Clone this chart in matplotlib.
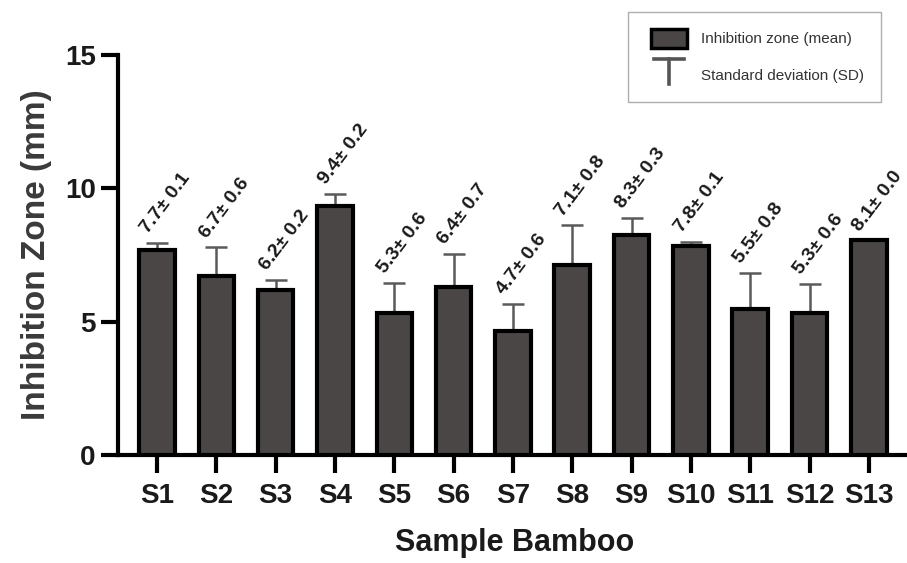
import matplotlib
matplotlib.use("Agg")
import matplotlib.pyplot as plt
from matplotlib.patches import Rectangle
from matplotlib.lines import Line2D
from matplotlib.legend_handler import HandlerBase
import numpy as np

categories = ["S1", "S2", "S3", "S4", "S5", "S6", "S7", "S8", "S9", "S10", "S11", "S12", "S13"]
means = [7.7, 6.7, 6.2, 9.35, 5.33, 6.3, 4.66, 7.14, 8.27, 7.83, 5.47, 5.33, 8.05]
err_drawn = [0.25, 1.09, 0.37, 0.44, 1.13, 1.24, 1.0, 1.47, 0.63, 0.15, 1.35, 1.09, 0.0]
label_mean = ["7.7", "6.7", "6.2", "9.4", "5.3", "6.4", "4.7", "7.1", "8.3", "7.8", "5.5", "5.3", "8.1"]
label_sd = ["0.1", "0.6", "0.2", "0.2", "0.6", "0.7", "0.6", "0.8", "0.3", "0.1", "0.8", "0.6", "0.0"]
yticks = [0, 5, 10, 15]

plt.rcParams['font.family'] = ['Liberation Sans', 'DejaVu Sans']

fig = plt.figure(figsize=(9.07, 5.63), dpi=100)
ax = fig.add_axes([0.130, 0.192, 0.875, 0.710])

x = np.arange(len(categories))
ax.bar(x, means, width=0.60, color="#4a4646", edgecolor="black", linewidth=3.0, zorder=3)
ax.errorbar(x, means, yerr=[np.zeros(len(x)), err_drawn], fmt="none", ecolor="#5a5a5a",
            elinewidth=1.8, capsize=8, capthick=1.8, zorder=2)

for xi, m, e, lm, ls in zip(x, means, err_drawn, label_mean, label_sd):
    ax.text(xi - 0.15, m + e + 0.33, f"{lm}\u00b1 {ls}", rotation=53, rotation_mode="anchor",
            ha="left", va="baseline", fontsize=14, fontweight="bold", color="#1a1a1a")

ax.set_xlim(-0.66, 12.72)
ax.set_ylim(0, 15)
ax.set_yticks(yticks)
ax.set_xticks(x)
ax.set_xticklabels(categories, fontsize=20, fontweight="bold", color="#1a1a1a")
ax.set_yticklabels([str(t) for t in yticks], fontsize=20, fontweight="bold", color="#1a1a1a")
ax.tick_params(axis="y", width=3, length=12, direction="out", pad=4)
ax.tick_params(axis="x", width=3, length=13, direction="out", pad=7)
for s in ["top", "right"]:
    ax.spines[s].set_visible(False)
for s in ["left", "bottom"]:
    ax.spines[s].set_linewidth(3)

ax.set_xlabel("Sample Bamboo", fontsize=22, fontweight="bold", labelpad=14, color="#1a1a1a")
ax.set_ylabel("Inhibition Zone (mm)", fontsize=24, fontweight="bold", color="#3a3a3a", labelpad=9)


class HandlerT(HandlerBase):
    def create_artists(self, legend, orig_handle, xdescent, ydescent, width, height, fontsize, trans):
        cx = width * 0.5 - xdescent
        top = height * 1.05
        hw = width * 0.3
        l1 = Line2D([cx - hw, cx + hw], [top, top], color="#555555", lw=2.6, transform=trans)
        l2 = Line2D([cx, cx], [top, -height * 0.2], color="#555555", lw=2.6, transform=trans)
        return [l1, l2]


class HandlerBox(HandlerBase):
    def create_artists(self, legend, orig_handle, xdescent, ydescent, width, height, fontsize, trans):
        w = width * 0.74
        r = Rectangle((width * 0.5 - xdescent - w / 2, -ydescent), w, height,
                      facecolor="#4a4646", edgecolor="black", linewidth=2.5, transform=trans)
        return [r]


class BoxKey:
    pass


class TKey:
    pass


leg = fig.legend([BoxKey(), TKey()], ["Inhibition zone (mean)", "Standard deviation (SD)"],
                 handler_map={BoxKey: HandlerBox(), TKey: HandlerT()}, loc="upper left",
                 bbox_to_anchor=(0.692, 0.979), borderaxespad=0, fontsize=11, frameon=True,
                 fancybox=False, edgecolor="#999999", borderpad=1.1, labelspacing=1.1,
                 handlelength=3.2, handleheight=1.6, handletextpad=0.5)
leg.get_frame().set_linewidth(1.0)
for t in leg.get_texts():
    t.set_color("#333333")

fig.savefig("out.png", dpi=100)
